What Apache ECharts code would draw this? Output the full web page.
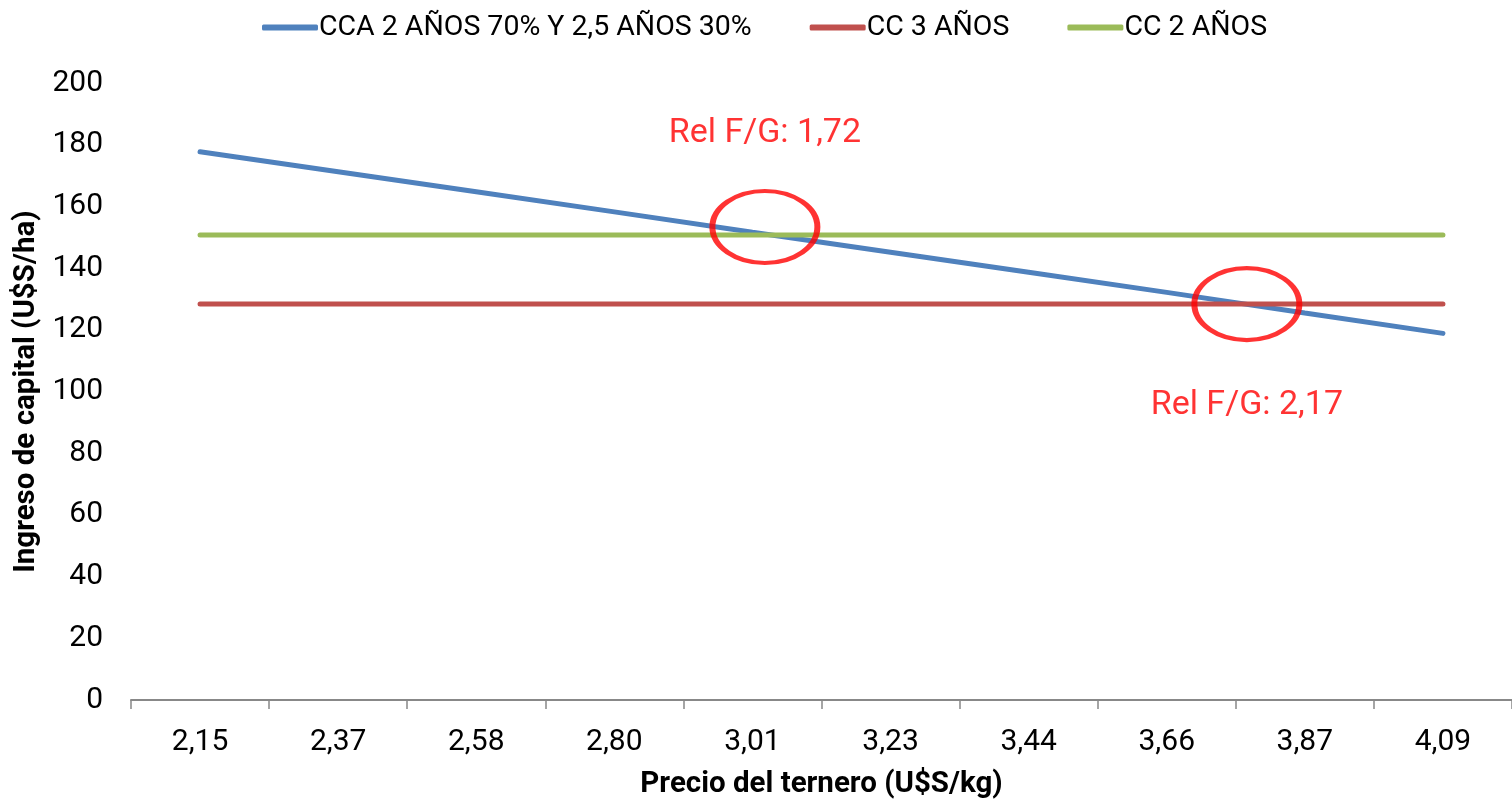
<!DOCTYPE html>
<html>
<head>
<meta charset="utf-8">
<script src="https://cdn.jsdelivr.net/npm/echarts@6/dist/echarts.min.js"></script>
<style>
html,body{margin:0;padding:0;background:#fff;}
#chart{width:1512px;height:805px;}
</style>
</head>
<body>
<div id="chart"></div>
<script>
// ---- data ----
const categories = ['2,15','2,37','2,58','2,80','3,01','3,23','3,44','3,66','3,87','4,09'];
const seriesNames = ['CCA 2 AÑOS 70% Y 2,5 AÑOS 30%', 'CC 3 AÑOS', 'CC 2 AÑOS'];
const ccaValues = [177.8, 171.3, 164.8, 158.3, 151.7, 145.2, 138.7, 132.2, 125.5, 118.9];
const cc3Values = [128.4, 128.4, 128.4, 128.4, 128.4, 128.4, 128.4, 128.4, 128.4, 128.4];
const cc2Values = [150.8, 150.8, 150.8, 150.8, 150.8, 150.8, 150.8, 150.8, 150.8, 150.8];
const yTicks = { min: 0, max: 200, interval: 20 };
// annotations (category-index position, value)
const ellipseX = [4.09, 7.58];
const ellipseY = [153.4, 128.4];
const noteX = [4.09, 7.58];
const noteY = [183.8, 95.4];
const noteTexts = ['Rel F/G: 1,72', 'Rel F/G: 2,17'];
const xTitle = 'Precio del ternero (U$S/kg)';
const yTitle = 'Ingreso de capital (U$S/ha)';

const colors = ['#4F81BD', '#C0504D', '#9BBB59'];
const FONT = 'Roboto, "Liberation Sans", sans-serif';

const chart = echarts.init(document.getElementById('chart'), null, {renderer: 'canvas'});

function lineSeries(name, data, color) {
  return {
    type: 'line', name: name, data: data, xAxisIndex: 0, yAxisIndex: 0,
    symbol: 'none', smooth: false, silent: true,
    lineStyle: { color: color, width: 5, cap: 'round' },
    itemStyle: { color: color },
    emphasis: { disabled: true }, z: 2
  };
}

const option = {
  animation: false,
  backgroundColor: '#ffffff',
  textStyle: { fontFamily: FONT },
  legend: {
    top: 8, left: 257,
    itemWidth: 56, itemHeight: 6, itemGap: 58,
    icon: 'roundRect',
    data: seriesNames,
    textStyle: { fontFamily: FONT, fontSize: 28.5, color: '#000', padding: [0, 0, 0, -4] },
    selectedMode: false
  },
  grid: { left: 131, right: -3, top: 83.3, bottom: 102.7, containLabel: false },
  xAxis: [{
    type: 'category', data: categories, boundaryGap: true,
    name: xTitle, nameLocation: 'middle', nameGap: 70,
    nameTextStyle: { fontFamily: FONT, fontSize: 29.5, fontWeight: 'bold', color: '#000' },
    axisLine: { show: true, lineStyle: { color: '#888888', width: 2 } },
    axisTick: { show: true, length: 9, lineStyle: { color: '#888888', width: 1.5 } },
    axisLabel: { fontFamily: FONT, fontSize: 30, color: '#000', margin: 27 },
    splitLine: { show: false }
  }, {
    type: 'value', min: -0.5, max: 9.5, show: false
  }],
  yAxis: [{
    type: 'value', min: yTicks.min, max: yTicks.max, interval: yTicks.interval,
    name: yTitle, nameLocation: 'middle', nameGap: 85, nameRotate: 90,
    nameTextStyle: { fontFamily: FONT, fontSize: 29.5, fontWeight: 'bold', color: '#000' },
    axisLine: { show: false }, axisTick: { show: false },
    axisLabel: { fontFamily: FONT, fontSize: 30, color: '#000', margin: 28 },
    splitLine: { show: false }
  }],
  series: [
    lineSeries(seriesNames[0], ccaValues, colors[0]),
    lineSeries(seriesNames[1], cc3Values, colors[1]),
    lineSeries(seriesNames[2], cc2Values, colors[2]),
    {
      type: 'scatter', name: 'ellipses', xAxisIndex: 1, yAxisIndex: 0, silent: true,
      data: ellipseX.map((x, i) => [x, ellipseY[i]]),
      symbol: 'circle', symbolSize: [105, 72],
      itemStyle: { color: 'rgba(0,0,0,0)', borderColor: '#FF0000', borderWidth: 5 },
      emphasis: { disabled: true }, z: 5
    },
    {
      type: 'scatter', name: 'notes', xAxisIndex: 1, yAxisIndex: 0, silent: true,
      data: noteX.map((x, i) => ({ name: noteTexts[i], value: [x, noteY[i]] })),
      symbolSize: 0,
      label: { show: true, position: 'inside', formatter: '{b}', color: '#FF0000',
               fontFamily: FONT, fontSize: 34 },
      emphasis: { disabled: true }, z: 6
    }
  ]
};
chart.setOption(option);
</script>
</body>
</html>
